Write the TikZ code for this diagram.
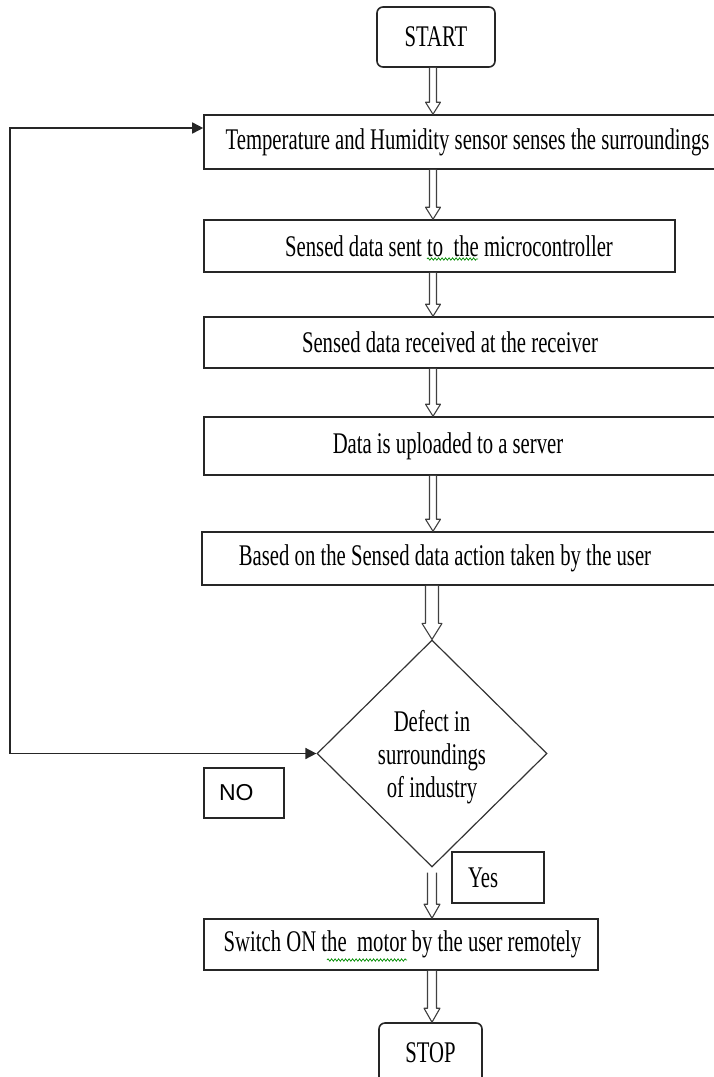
\documentclass[tikz,border=0pt]{standalone}
\usepackage{fontspec}
\setmainfont{Liberation Serif}[FakeStretch=0.69]
\newfontfamily\labelsans{Liberation Sans}
\usetikzlibrary{shapes.geometric,arrows.meta,calc,decorations.pathmorphing}

% hollow block arrow between two points: from, to, shaft half-width, head half-width, head length
\newcommand\hollowarrow[5]{%
  \draw[flow] let \p1=(#1), \p2=(#2) in
    (\x1-#3,\y1) -- (\x1-#3,\y2+#5) -- (\x1-#4,\y2+#5) -- (\x1,\y2)
    -- (\x1+#4,\y2+#5) -- (\x1+#3,\y2+#5) -- (\x1+#3,\y1);}

\begin{document}
\begin{tikzpicture}[x=1pt,y=-1pt,
  txt/.style={font=\fontsize{30}{33}\selectfont},
  proc/.style={draw=black!85, line width=1.6pt, rectangle, inner sep=0pt, fill=white, txt},
  term/.style={proc, rounded corners=6pt},
  boxtext/.style={txt, inner sep=0pt},
  decision/.style={draw=black!80, line width=1.2pt, diamond, inner sep=0pt},
  flow/.style={draw=black!75, line width=1.1pt, fill=white, line join=round},
  loopline/.style={draw=black!85, line width=1.6pt,
    {Triangle[length=11pt,width=11pt]}-{Triangle[length=11pt,width=11pt]}},
  spell/.style={draw=green!55!black, line width=0.7pt, decorate,
    decoration={snake, amplitude=1.2pt, segment length=3.5pt}}]

\useasboundingbox (0,0) rectangle (713,1077);

\coordinate (axis) at (433,0);
\coordinate (loop) at (10,0);

% process steps
\node[term, minimum width=118, minimum height=60] (start) at (436,37) {START};
\node[proc, minimum width=521, minimum height=54,
  label={[boxtext,xshift=3pt]center:Temperature and Humidity sensor senses the surroundings}]
  (t1) at (464.5,142) {};
\node[proc, minimum width=471, minimum height=52,
  label={[boxtext,xshift=9.5pt]center:Sensed data sent to\ \ the microcontroller}]
  (t2) at (439.5,246) {};
\node[proc, minimum width=521, minimum height=51,
  label={[boxtext,xshift=-14.5pt]center:Sensed data received at the receiver}]
  (t3) at (464.5,342.5) {};
\node[proc, minimum width=521, minimum height=58,
  label={[boxtext,xshift=-16.5pt]center:Data is uploaded to a server}]
  (t4) at (464.5,446) {};
\node[proc, minimum width=523, minimum height=53,
  label={[boxtext,xshift=-18.5pt]center:Based on the Sensed data action taken by the user}]
  (t5) at (463.5,558.5) {};
\node[decision, minimum width=230, minimum height=227,
  label={[boxtext,align=center,yshift=-4pt]center:Defect in\\surroundings\\of industry}]
  (dec) at (432,753.5) {};
\node[proc, line width=1.4pt, minimum width=80, minimum height=50, text width=50pt,
  inner xsep=15pt, align=left, font=\labelsans\fontsize{23}{26}\selectfont]
  (no) at (244,793) {NO};
\node[proc, line width=1.4pt, minimum width=92, minimum height=51, text width=60pt,
  inner xsep=16pt, align=left] (yes) at (498,877.5) {Yes};
\node[proc, minimum width=394, minimum height=51,
  label={[boxtext,xshift=1.5pt]center:Switch ON the\ \ motor by the user remotely}]
  (t6) at (401,944.5) {};
\node[term, minimum width=103, minimum height=60] (stop) at (430.5,1053) {STOP};

% block arrows down the main path
\hollowarrow{axis |- start.south}{axis |- t1.north}{3.5pt}{7.5pt}{12pt}
\hollowarrow{axis |- t1.south}{axis |- t2.north}{3.5pt}{7.5pt}{12pt}
\hollowarrow{axis |- t2.south}{axis |- t3.north}{3.5pt}{7.5pt}{12pt}
\hollowarrow{axis |- t3.south}{axis |- t4.north}{3.5pt}{7.5pt}{12pt}
\hollowarrow{axis |- t4.south}{axis |- t5.north}{3.5pt}{7.5pt}{12pt}
\hollowarrow{dec.north |- t5.south}{dec.north}{6.5pt}{10pt}{16pt}
\hollowarrow{[yshift=-5pt]dec.south}{dec.south |- t6.north}{4.5pt}{8pt}{14pt}
\hollowarrow{dec.south |- t6.south}{dec.south |- stop.north}{4.5pt}{8pt}{14pt}

% feedback path when no defect is found
\draw[loopline] (dec.west) -- (dec.west -| loop) |- ([yshift=14pt]t1.west);

% spelling marks under the text
\draw[spell] (427,259) -- (478,259);
\draw[spell] (327,960) -- (407,960);
\end{tikzpicture}
\end{document}
